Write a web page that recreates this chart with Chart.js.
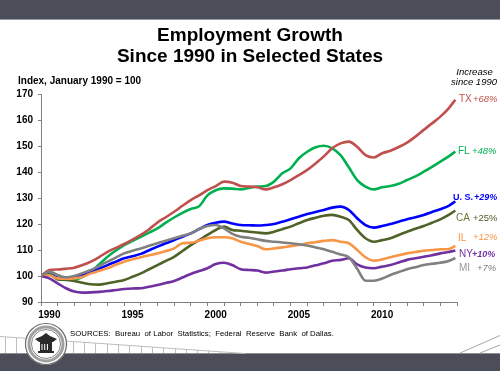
<!DOCTYPE html>
<html>
<head>
<meta charset="utf-8">
<script src="https://cdn.jsdelivr.net/npm/chart.js@4.4.1/dist/chart.umd.min.js"></script>
<style>
  html, body { margin: 0; padding: 0; background: #ffffff; }
  #wrap { position: relative; width: 500px; height: 371px; }
</style>
</head>
<body>
<div id="wrap"><canvas id="c"></canvas></div>
<script>
// ---- data (index, January 1990 = 100) ----
const dates = [1990.0, 1990.5, 1991.0, 1991.5, 1992.0, 1992.5, 1993.0, 1993.5, 1994.0, 1994.5,
  1995.0, 1995.5, 1996.0, 1996.5, 1997.0, 1997.5, 1998.0, 1998.5, 1999.0, 1999.5,
  2000.0, 2000.5, 2001.0, 2001.5, 2002.0, 2002.5, 2003.0, 2003.5, 2004.0, 2004.5,
  2005.0, 2005.5, 2006.0, 2006.5, 2007.0, 2007.5, 2008.0, 2008.5, 2009.0, 2009.5,
  2010.0, 2010.5, 2011.0, 2011.5, 2012.0, 2012.5, 2013.0, 2013.5, 2014.0, 2014.5, 2014.9];

const tx = [100, 102.3, 102.5, 102.8, 103.2, 104.2, 105.5, 107.3, 109.3, 110.8,
  112.3, 114, 115.8, 118, 120.6, 122.6, 124.7, 127, 129.2, 131,
  133, 134.6, 136.3, 135.9, 134.6, 134.4, 134.1, 133.3, 134.1, 135.3,
  136.9, 138.8, 140.8, 143.3, 146, 149.1, 151, 151.7, 149.7, 146.5,
  145.6, 147.2, 148.2, 149.6, 151.3, 153.6, 156.2, 158.7, 161.3, 164.5, 167.8];

const fl = [100, 101, 99.2, 98.7, 98.5, 99.7, 101.6, 104.5, 107.4, 109.8,
  111.9, 113.5, 115.1, 116.7, 118.3, 120.5, 122.5, 124.3, 125.8, 126.8,
  131, 133, 133.7, 133.6, 133.3, 133.9, 134.4, 134.6, 136.3, 139.5,
  141.4, 145.3, 147.8, 149.5, 150.1, 149.1, 146.5, 141.8, 136.9, 134.4,
  133.3, 134.1, 134.6, 135.5, 136.9, 138.3, 140.1, 142, 144, 146, 147.9];

const us = [100, 100.5, 99.3, 99.1, 99.5, 100.3, 101.4, 102.8, 104.2, 105.5,
  106.8, 107.6, 108.5, 109.9, 111.3, 112.6, 113.8, 115.1, 116.4, 118,
  119.6, 120.5, 120.9, 120.2, 119.6, 119.5, 119.4, 119.6, 120, 120.9,
  121.8, 122.8, 123.8, 124.6, 125.4, 126.3, 126.7, 125.4, 122.2, 119.6,
  118.6, 119.2, 120, 120.9, 121.8, 122.6, 123.5, 124.6, 125.7, 127, 128.7];

const ca = [100, 100.5, 98.7, 98.5, 98.1, 97.4, 96.8, 96.7, 97.2, 97.8,
  98.5, 99.7, 101, 102.6, 104.2, 105.8, 107.4, 109.6, 111.9, 113.8,
  115.8, 117.7, 119, 117.7, 117.4, 117, 116.7, 116.4, 117, 118,
  119, 120.3, 121.5, 122.4, 123.2, 123.5, 122.8, 121.5, 117.7, 114.5,
  113.2, 113.8, 114.5, 115.8, 117, 118.2, 119.2, 120.5, 121.8, 123.5, 125.2];

const il = [100, 100.3, 99.1, 99, 99.1, 99.7, 101, 102, 103, 104.3,
  105.5, 106.4, 107.2, 108, 108.7, 109.6, 110.6, 112.6, 112.8, 113.6,
  114.5, 114.9, 114.9, 114.5, 113.2, 112.3, 111.5, 110.3, 110.6, 111,
  111.5, 111.9, 112.6, 113, 113.5, 113.8, 113.2, 112.6, 110, 107.2,
  105.9, 106.4, 107.2, 108, 108.7, 109.2, 109.7, 110, 110.3, 110.4, 111.6];

const ny = [100, 99.1, 97.2, 95.3, 94, 93.6, 93.7, 93.9, 94.2, 94.6,
  95, 95.2, 95.3, 95.9, 96.5, 97.3, 98.1, 99.4, 100.8, 101.9,
  103, 104.6, 105.1, 104.2, 102.6, 102.3, 102.1, 101.3, 101.7, 102.1,
  102.6, 103, 103.3, 104.1, 104.9, 105.9, 106.2, 106.8, 104.5, 103.3,
  103, 103.6, 104.2, 105.2, 106.2, 106.8, 107.4, 108, 108.7, 109.2, 109.8];

const mi = [100, 101.7, 100.4, 99.5, 100, 101.1, 102.3, 103.9, 105.5, 107.1,
  108.7, 109.7, 110.6, 111.6, 112.6, 113.6, 114.5, 115.5, 116.4, 118.1,
  119.2, 119.6, 118.3, 116.2, 115.1, 114.7, 114.1, 113.5, 113.2, 112.9,
  112.6, 112.2, 111.7, 111, 110.3, 109.3, 108.3, 107.2, 102.8, 98.2,
  98.2, 99, 100.4, 101.5, 102.6, 103.4, 104.2, 104.7, 105.1, 105.8, 106.9];

const yearLabels = ['1990','1991','1992','1993','1994','1995','1996','1997','1998','1999',
  '2000','2001','2002','2003','2004','2005','2006','2007','2008','2009',
  '2010','2011','2012','2013','2014'];
const yTicks = [90, 100, 110, 120, 130, 140, 150, 160, 170];

const seriesNames = ['TX', 'FL', 'U. S.', 'CA', 'IL', 'NY', 'MI'];
const seriesPct = ['+68%', '+48%', '+29%', '+25%', '+12%', '+10%', '+7%'];
const seriesValues = [tx, fl, us, ca, il, ny, mi];

// ---- styles ----
const lineColors = ['#c0504d', '#00b050', '#0000ff', '#4f6228', '#f79646', '#7030a0', '#808080'];
const FONT = '"Liberation Sans", Arial, sans-serif';

const drawOrder = [6, 5, 4, 3, 2, 0, 1];
const datasets = drawOrder.map(i => ({
  label: seriesNames[i],
  data: dates.map((d, k) => ({ x: d, y: seriesValues[i][k] })),
  xAxisID: 'xd',
  yAxisID: 'y',
  borderColor: lineColors[i],
  backgroundColor: lineColors[i],
  borderWidth: 2.6,
  pointRadius: 0,
  fill: false,
  cubicInterpolationMode: 'monotone'
}));

// label styling per series (name and percent)
const labelStyle = [
  { nx: 459, px: 473, dy: 0,  nf: '10px', pf: 'italic 9.5px', nc: '#c0504d', pc: '#c0504d' },
  { nx: 458, px: 472, dy: 0,  nf: '10px', pf: 'italic 9.5px', nc: '#00b050', pc: '#00b050' },
  { nx: 453, px: 474, dy: -4, nf: 'bold 9px', pf: 'italic bold 9px', nc: '#0000ff', pc: '#0000ff' },
  { nx: 456, px: 473, dy: 8,  nf: '10px', pf: '9.5px', nc: '#6b7a3a', pc: '#4f5a2a' },
  { nx: 458, px: 473, dy: -8, nf: '10px', pf: 'italic 9.5px', nc: '#f79646', pc: '#f79646' },
  { nx: 459, px: 472, dy: 4,  nf: '10px', pf: 'italic bold 9px', nc: '#7030a0', pc: '#7030a0' },
  { nx: 459, px: 477, dy: 10, nf: '10px', pf: 'italic 9.5px', nc: '#999999', pc: '#808080' }
];

const decor = {
  id: 'decor',
  beforeDraw(chart) {
    const ctx = chart.ctx;
    ctx.save();
    // top band
    ctx.fillStyle = '#4b4d59';
    ctx.fillRect(0, 0, 500, 19);
    ctx.fillStyle = '#9a9aa0';
    ctx.fillRect(0, 19, 500, 1);
    // bottom band
    ctx.fillStyle = '#4b4d59';
    ctx.fillRect(0, 354, 500, 17);
    ctx.fillStyle = '#8c8c94';
    ctx.fillRect(0, 353, 500, 1);
    // left ruler decoration
    ctx.strokeStyle = '#bdbdbd';
    ctx.lineWidth = 1;
    ctx.beginPath();
    ctx.moveTo(0, 336.5);
    ctx.lineTo(245, 353.5);
    ctx.stroke();
    ctx.beginPath();
    for (let x = 5; x < 240; x += 11.3) {
      const yTop = 336.5 + (x / 245) * 17;
      ctx.moveTo(Math.round(x) + 0.5, yTop);
      ctx.lineTo(Math.round(x) + 0.5, 353);
    }
    ctx.stroke();
    // bottom-right diagonal lines
    ctx.strokeStyle = '#a8a8a8';
    ctx.beginPath();
    ctx.moveTo(460, 353); ctx.lineTo(500, 335.5);
    ctx.moveTo(480, 353); ctx.lineTo(500, 345);
    ctx.stroke();
    // seal
    const cx = 46, cy = 344;
    ctx.fillStyle = '#ffffff';
    ctx.beginPath(); ctx.arc(cx, cy, 21, 0, Math.PI * 2); ctx.fill();
    ctx.strokeStyle = '#6a6a6a'; ctx.lineWidth = 1.2;
    ctx.beginPath(); ctx.arc(cx, cy, 20.5, 0, Math.PI * 2); ctx.stroke();
    ctx.strokeStyle = '#a0a0a0'; ctx.lineWidth = 3;
    ctx.beginPath(); ctx.arc(cx, cy, 17, 0, Math.PI * 2); ctx.stroke();
    ctx.strokeStyle = '#666'; ctx.lineWidth = 0.8;
    ctx.beginPath(); ctx.arc(cx, cy, 14.5, 0, Math.PI * 2); ctx.stroke();
    ctx.fillStyle = '#2a2a2a';
    ctx.beginPath();
    ctx.moveTo(cx - 11, cy - 5); ctx.lineTo(cx - 4, cy - 8); ctx.lineTo(cx, cy - 11);
    ctx.lineTo(cx + 4, cy - 8); ctx.lineTo(cx + 11, cy - 5); ctx.lineTo(cx + 7, cy - 2);
    ctx.lineTo(cx - 7, cy - 2); ctx.closePath(); ctx.fill();
    ctx.fillRect(cx - 6, cy - 2, 12, 9);
    ctx.fillStyle = '#ffffff';
    for (let k = -4; k <= 4; k += 2.7) ctx.fillRect(cx + k - 0.5, cy, 1, 6);
    ctx.fillStyle = '#2a2a2a';
    ctx.fillRect(cx - 8, cy + 7, 16, 2);
    ctx.restore();
  },
  afterDraw(chart) {
    const ctx = chart.ctx;
    const ys = chart.scales.y;
    ctx.save();
    ctx.textBaseline = 'middle';
    // title
    ctx.fillStyle = '#000000';
    ctx.textAlign = 'center';
    ctx.font = 'bold 19px ' + FONT;
    ctx.fillText('Employment Growth', 250, 36);
    ctx.fillText('Since 1990 in Selected States', 250, 57);
    // axis caption
    ctx.textAlign = 'left';
    ctx.font = 'bold 10px ' + FONT;
    ctx.fillText('Index, January 1990 = 100', 18, 81.5);
    // increase caption
    ctx.textAlign = 'center';
    ctx.font = 'italic 9.5px ' + FONT;
    ctx.fillText('Increase', 474.5, 72);
    ctx.fillText('since 1990', 474, 82.5);
    // sources
    ctx.textAlign = 'left';
    ctx.font = '7.8px ' + FONT;
    ctx.fillStyle = '#000000';
    ctx.fillText('SOURCES:  Bureau  of Labor  Statistics;  Federal  Reserve  Bank  of Dallas.', 70, 334);
    // series end labels
    seriesValues.forEach((vals, i) => {
      const st = labelStyle[i];
      const y = ys.getPixelForValue(vals[vals.length - 1]) + st.dy;
      ctx.textAlign = 'left';
      ctx.font = st.nf + ' ' + FONT;
      ctx.fillStyle = st.nc;
      ctx.fillText(seriesNames[i], st.nx, y);
      ctx.font = st.pf + ' ' + FONT;
      ctx.fillStyle = st.pc;
      ctx.fillText(seriesPct[i], st.px, y);
    });
    ctx.restore();
  }
};

new Chart(document.getElementById('c'), {
  type: 'line',
  data: { datasets },
  options: {
    responsive: true,
    maintainAspectRatio: false,
    animation: false,
    events: [],
    layout: { padding: { top: 94, right: 43, left: 0, bottom: 0 } },
    plugins: { legend: { display: false }, tooltip: { enabled: false }, title: { display: false } },
    scales: {
      x: {
        type: 'category',
        labels: yearLabels,
        offset: true,
        position: 'bottom',
        grid: { offset: true, drawOnChartArea: false, drawTicks: true, tickLength: 4, color: '#808080' },
        border: { display: true, color: '#808080', width: 1 },
        ticks: {
          autoSkip: false, maxRotation: 0, padding: 3, color: '#000000',
          font: { family: FONT, size: 10, weight: 'bold' },
          callback: function (v, i) { const l = yearLabels[i]; return (+l % 5 === 0) ? l : ''; }
        },
        afterFit: s => { s.height = 69; }
      },
      xd: {
        type: 'linear', min: 1990, max: 2015, display: false, position: 'bottom'
      },
      y: {
        type: 'linear', min: 90, max: 170,
        afterBuildTicks: s => { s.ticks = yTicks.map(v => ({ value: v })); },
        grid: { drawOnChartArea: false, drawTicks: true, tickLength: 3, color: '#808080' },
        border: { display: true, color: '#808080', width: 1 },
        ticks: { padding: 5, color: '#000000', font: { family: FONT, size: 10, weight: 'bold' } },
        afterFit: s => { s.width = 41; }
      }
    }
  },
  plugins: [decor]
});
</script>
</body>
</html>
